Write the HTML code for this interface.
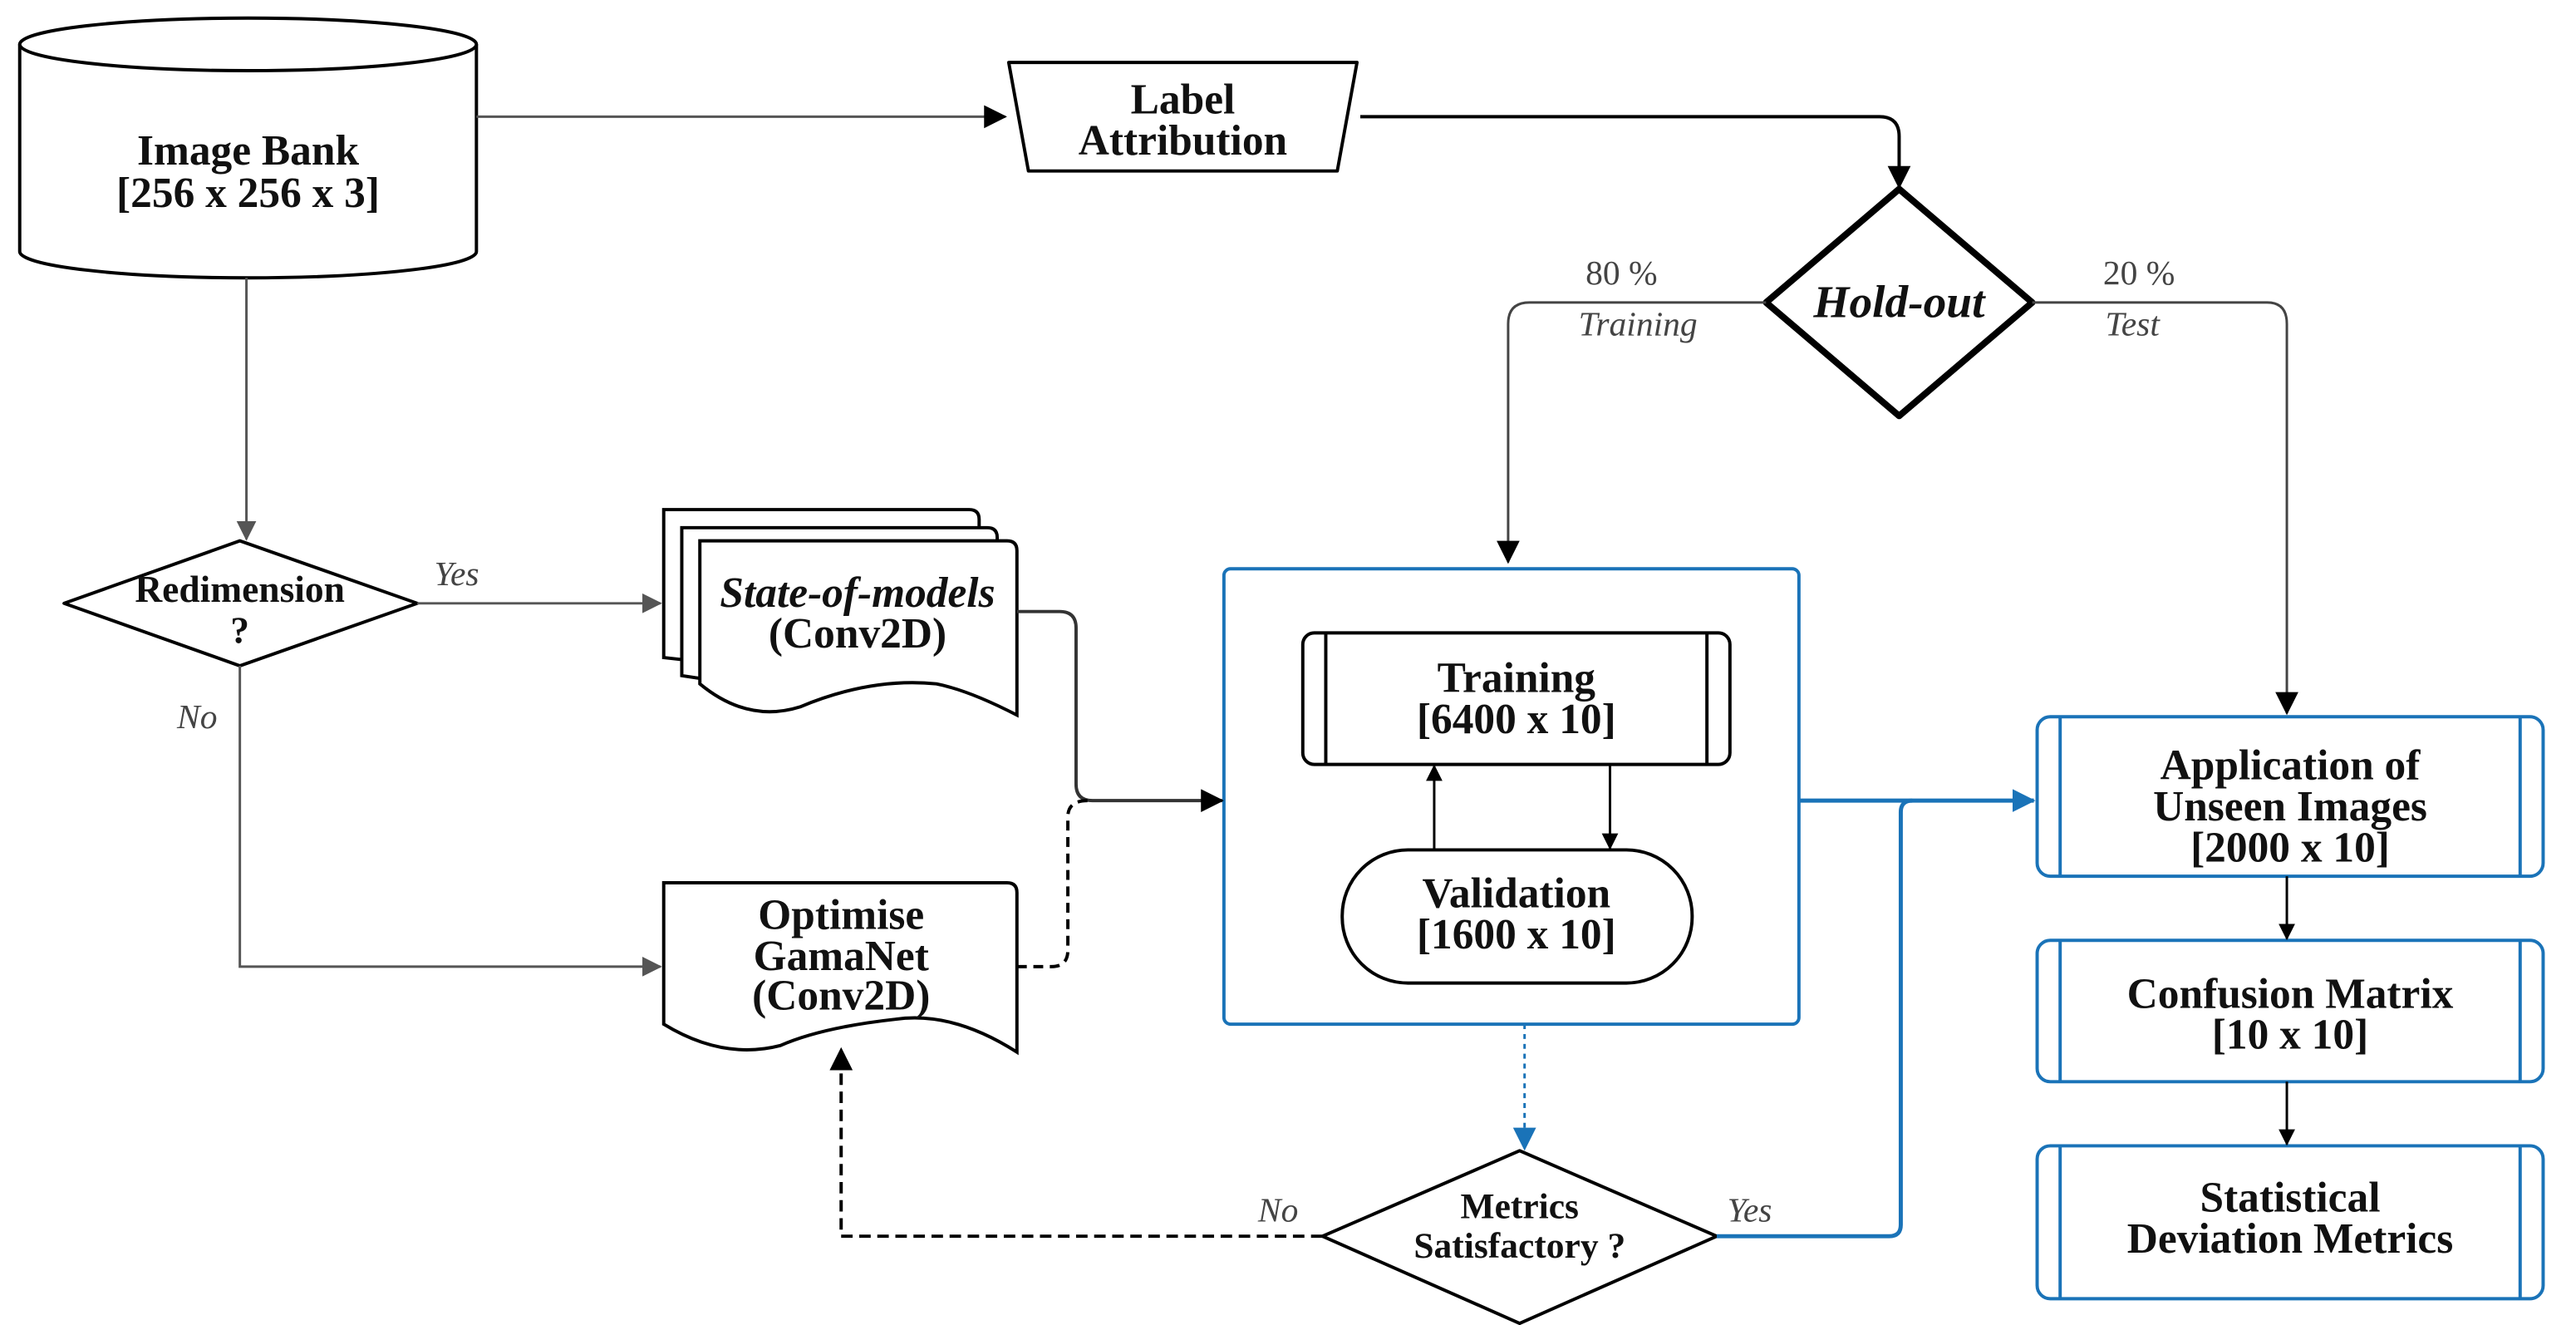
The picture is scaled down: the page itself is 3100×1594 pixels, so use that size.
<!DOCTYPE html>
<html><head><meta charset="utf-8">
<style>
html,body{margin:0;padding:0;background:#fff;}
svg{display:block;}
text{font-family:"Liberation Serif",serif;font-weight:bold;fill:#111;}
.it{font-style:italic;font-weight:normal;fill:#444;}
</style></head>
<body>
<svg width="3100" height="1594" viewBox="0 0 1568 806" preserveAspectRatio="none" xmlns="http://www.w3.org/2000/svg">
<defs>
<marker id="ab" markerWidth="10" markerHeight="10" refX="9" refY="5" orient="auto" markerUnits="userSpaceOnUse"><path d="M0,0 L10,5 L0,10 Z" fill="#000"/></marker>
<marker id="ag" markerWidth="12" markerHeight="12" refX="11" refY="6" orient="auto" markerUnits="userSpaceOnUse"><path d="M0,0 L12,6 L0,12 Z" fill="#555"/></marker>
<marker id="abl" markerWidth="14" markerHeight="14" refX="13" refY="7" orient="auto" markerUnits="userSpaceOnUse"><path d="M0,0 L14,7 L0,14 Z" fill="#1a73b8"/></marker>
<marker id="abk" markerWidth="14" markerHeight="14" refX="13" refY="7" orient="auto" markerUnits="userSpaceOnUse"><path d="M0,0 L14,7 L0,14 Z" fill="#000"/></marker>
</defs>
<g fill="#fff" stroke="#000" stroke-width="2">
<!-- cylinder -->
<path d="M12,27 L12,153 A139,16 0 0 0 290,153 L290,27"/>
<ellipse cx="151" cy="27" rx="139" ry="16"/>
<!-- label attribution -->
<path d="M614,38 L826,38 L814,104 L626,104 Z" stroke-linejoin="round"/>
<!-- holdout -->
<path d="M1156,115 L1237,184 L1156,253 L1075,184 Z" stroke-width="4" stroke-linejoin="round"/>
<!-- redimension -->
<path d="M146,329 L254,367 L146,405 L39,367 Z" stroke-linejoin="round"/>
<!-- state of models stack -->
<path d="M404,310 L590,310 Q596,310 596,316 L596,400 Q560,395 520,400 Q470,408 404,400 Z"/>
<path d="M415,321 L601,321 Q607,321 607,327 L607,420 Q570,405 520,412 Q470,420 415,411 Z"/>
<path d="M426,329 L613,329 Q619,329 619,335 L619,435 Q590,420 570,416 Q530,412 487,430 Q455,440 426,416 Z"/>
<!-- optimise -->
<path d="M404,537 L613,537 Q619,537 619,543 L619,640 Q580,615 545,620 Q500,625 475,636 Q440,645 404,623 Z"/>
<!-- metrics diamond -->
<path d="M925,700 L1045,752 L925,805 L805,752 Z" stroke-linejoin="round"/>
</g>
<!-- blue container -->
<rect x="745" y="346" width="350" height="277" rx="4" fill="none" stroke="#1a73b8" stroke-width="2"/>
<!-- training -->
<rect x="793" y="385" width="260" height="80" rx="7" fill="#fff" stroke="#000" stroke-width="2"/>
<line x1="807" y1="385" x2="807" y2="465" stroke="#000" stroke-width="2"/>
<line x1="1039" y1="385" x2="1039" y2="465" stroke="#000" stroke-width="2"/>
<!-- validation -->
<rect x="817" y="517" width="213" height="81" rx="40" fill="#fff" stroke="#000" stroke-width="2"/>
<!-- right boxes -->
<g fill="#fff" stroke="#1a73b8" stroke-width="2">
<rect x="1240" y="436" width="308" height="97" rx="8"/>
<rect x="1240" y="572" width="308" height="86" rx="8"/>
<rect x="1240" y="697" width="308" height="93" rx="8"/>
</g>
<g stroke="#1a73b8" stroke-width="2">
<line x1="1254" y1="436" x2="1254" y2="533"/><line x1="1534" y1="436" x2="1534" y2="533"/>
<line x1="1254" y1="572" x2="1254" y2="658"/><line x1="1534" y1="572" x2="1534" y2="658"/>
<line x1="1254" y1="697" x2="1254" y2="790"/><line x1="1534" y1="697" x2="1534" y2="790"/>
</g>
<!-- connectors -->
<g fill="none" stroke-width="1.5">
<path d="M290,71 L612,71" stroke="#555" marker-end="url(#abk)"/>
<path d="M828,71 L1144,71 Q1156,71 1156,83 L1156,114" stroke="#000" stroke-width="2" marker-end="url(#abk)"/>
<path d="M1075,184 L931,184 Q918,184 918,197 L918,342" stroke="#444" marker-end="url(#abk)"/>
<path d="M1237,184 L1380,184 Q1392,184 1392,197 L1392,434" stroke="#444" marker-end="url(#abk)"/>
<path d="M150,169 L150,328" stroke="#555" marker-end="url(#ag)"/>
<path d="M254,367 L402,367" stroke="#555" marker-end="url(#ag)"/>
<path d="M146,405 L146,588 L402,588" stroke="#555" marker-end="url(#ag)"/>
<path d="M619,372 L645,372 Q655,372 655,382 L655,477 Q655,487 665,487 L744,487" stroke="#333" stroke-width="2" marker-end="url(#abk)"/>
<path d="M619,588 L640,588 Q650,588 650,578 L650,497 Q650,487 662,487" stroke="#000" stroke-width="2" stroke-dasharray="6,4"/>
<path d="M873,517 L873,466" stroke="#000" marker-end="url(#ab)"/>
<path d="M980,465 L980,516" stroke="#000" marker-end="url(#ab)"/>
<path d="M1095,487 L1238,487" stroke="#1a73b8" stroke-width="2.5" marker-end="url(#abl)"/>
<path d="M1045,752 L1150,752 Q1157,752 1157,745 L1157,494 Q1157,487 1164,487" stroke="#1a73b8" stroke-width="2.5"/>
<path d="M928,623 L928,699" stroke="#1a73b8" stroke-dasharray="3,3" marker-end="url(#abl)"/>
<path d="M805,752 L512,752 L512,638" stroke="#000" stroke-width="2" stroke-dasharray="7,4" marker-end="url(#abk)"/>
<path d="M1392,533 L1392,571" stroke="#000" marker-end="url(#ab)"/>
<path d="M1392,658 L1392,696" stroke="#000" marker-end="url(#ab)"/>
</g>
<!-- text -->
<g text-anchor="middle" font-size="26">
<text x="151" y="100">Image Bank</text>
<text x="151" y="126">[256 x 256 x 3]</text>
<text x="720" y="69">Label</text>
<text x="720" y="94">Attribution</text>
<text x="1156" y="193" font-style="italic" font-size="28">Hold-out</text>
<text x="146" y="366" font-size="23">Redimension</text>
<text x="146" y="391" font-size="23">?</text>
<text x="522" y="369" font-style="italic">State-of-models</text>
<text x="522" y="394">(Conv2D)</text>
<text x="512" y="565">Optimise</text>
<text x="512" y="590">GamaNet</text>
<text x="512" y="614">(Conv2D)</text>
<text x="923" y="421">Training</text>
<text x="923" y="446">[6400 x 10]</text>
<text x="923" y="552">Validation</text>
<text x="923" y="577">[1600 x 10]</text>
<text x="925" y="741" font-size="22">Metrics</text>
<text x="925" y="765" font-size="22">Satisfactory ?</text>
<text x="1394" y="474">Application of</text>
<text x="1394" y="499">Unseen Images</text>
<text x="1394" y="524">[2000 x 10]</text>
<text x="1394" y="613">Confusion Matrix</text>
<text x="1394" y="638">[10 x 10]</text>
<text x="1394" y="737">Statistical</text>
<text x="1394" y="762">Deviation Metrics</text>
</g>
<g font-size="21" text-anchor="middle">
<text x="987" y="173" style="font-weight:normal;fill:#444">80 %</text>
<text x="997" y="204" class="it">Training</text>
<text x="1302" y="173" style="font-weight:normal;fill:#444">20 %</text>
<text x="1298" y="204" class="it">Test</text>
<text x="278" y="356" class="it">Yes</text>
<text x="120" y="443" class="it">No</text>
<text x="778" y="743" class="it">No</text>
<text x="1065" y="743" class="it">Yes</text>
</g>
</svg>
</body></html>
